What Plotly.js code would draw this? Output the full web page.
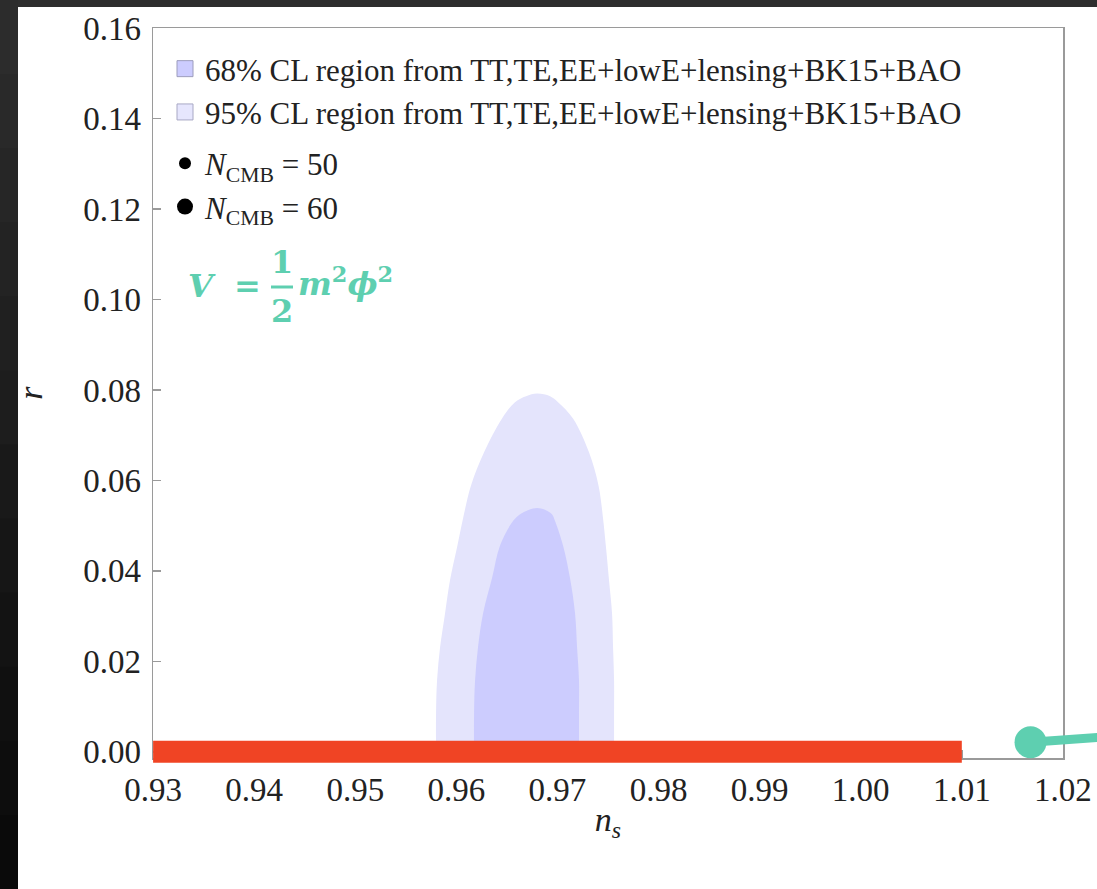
<!DOCTYPE html>
<html><head><meta charset="utf-8">
<script src="https://cdn.plot.ly/plotly-3.0.1.min.js"></script>
<style>html,body{margin:0;padding:0;background:#1e1e1e;} #chart{width:1097px;height:889px;}</style>
</head><body><div id="chart"></div>
<script>
// ---- data ----
// 95% CL contour (n_s, r), traced left side bottom->top then right side top->bottom
const ci95Ns = [0.95799,0.95799,0.95809,0.95839,0.95888,0.95937,0.96007,0.96066,0.96145,0.96274,0.96452,0.96580,0.96689,0.96798,0.96927,0.97006,0.97154,0.97312,0.97406,0.97451,0.97480,0.97510,0.97540,0.97550,0.97560,0.97560,0.97560];
const ci95R  = [0.0000,0.0085,0.0158,0.0231,0.0306,0.0379,0.0452,0.0516,0.0589,0.0662,0.0737,0.0773,0.0786,0.0792,0.0786,0.0773,0.0737,0.0662,0.0589,0.0516,0.0452,0.0379,0.0306,0.0231,0.0158,0.0085,0.0000];
// 68% CL contour
const ci68Ns = [0.96175,0.96175,0.96185,0.96214,0.96264,0.96353,0.96432,0.96560,0.96630,0.96719,0.96798,0.96877,0.96946,0.96976,0.97055,0.97124,0.97174,0.97194,0.97213,0.97213,0.97213];
const ci68R  = [0.0000,0.0085,0.0158,0.0231,0.0306,0.0384,0.0456,0.0510,0.0525,0.0535,0.0539,0.0535,0.0525,0.0510,0.0456,0.0384,0.0306,0.0231,0.0158,0.0085,0.0000];
const redBandNs = [0.93, 1.01];
const redBandR  = [0.0, 0.0];
const cyanNs = [1.0168, 1.0234, 1.0320];
const cyanR  = [0.0021, 0.0032, 0.0045];
const xTickVals = [0.93,0.94,0.95,0.96,0.97,0.98,0.99,1.00,1.01,1.02];
const xTickText = ['0.93','0.94','0.95','0.96','0.97','0.98','0.99','1.00','1.01','1.02'];
const yTickVals = [0.00,0.02,0.04,0.06,0.08,0.10,0.12,0.14,0.16];
const yTickText = ['0.00','0.02','0.04','0.06','0.08','0.10','0.12','0.14','0.16'];
const legendLabels = [
  '68% CL region from TT,TE,EE+lowE+lensing+BK15+BAO',
  '95% CL region from TT,TE,EE+lowE+lensing+BK15+BAO',
  '<i>N</i><sub>CMB</sub> = 50',
  '<i>N</i><sub>CMB</sub> = 60'
];

// ---- geometry (pixels of the 1097x889 page) ----
const W = 1097, H = 889;
const M = {l:153, r:0, t:28, b:100};
const PW = W - M.l - M.r, PH = H - M.t - M.b;
const boxRight = 1063, boxBottom = 758;
const xDom = [0, (boxRight - M.l) / PW];
const yDom = [(H - M.b - boxBottom) / PH, 1];
const xRange = [0.92999, 1.02001];
const yRange = [-0.00137, 0.16002];
// overlay axes spanning the whole plot area with the same scale (so marks may spill past the box)
const xs = (xRange[1]-xRange[0])/(xDom[1]-xDom[0]);
const ys = (yRange[1]-yRange[0])/(yDom[1]-yDom[0]);
const x2Range = [xRange[0], xRange[0] + xs];
const y2Range = [yRange[0] - yDom[0]*ys, yRange[1] + (1-yDom[1])*ys];
const px = v => (v - M.l) / PW;
const py = v => (H - M.b - v) / PH;

const SERIF = 'Liberation Serif';
const TEAL = '#5ecfb0';
const AX = '#9a9a9a';

const traces = [
  {x: ci95Ns, y: ci95R, type:'scatter', mode:'lines', fill:'toself', fillcolor:'#e4e4fc',
   line:{width:0, shape:'spline', smoothing:1, color:'#e4e4fc'}, showlegend:false, hoverinfo:'skip'},
  {x: ci68Ns, y: ci68R, type:'scatter', mode:'lines', fill:'toself', fillcolor:'#ccccfe',
   line:{width:0, shape:'spline', smoothing:1, color:'#ccccfe'}, showlegend:false, hoverinfo:'skip'},
  // legend entries
  {x:[null], y:[null], type:'scatter', mode:'markers', name: legendLabels[0], legendgroup:'cl',
   marker:{symbol:'square', size:16, color:'#ccccfe', line:{width:1, color:'#9c9cbc'}}},
  {x:[null], y:[null], type:'scatter', mode:'markers', name: legendLabels[1], legendgroup:'cl',
   marker:{symbol:'square', size:16, color:'#e6e6fd', line:{width:1, color:'#a8a8c4'}}},
  {x:[null], y:[null], type:'scatter', mode:'markers', name: legendLabels[2], legendgroup:'n',
   marker:{symbol:'circle', size:12, color:'#000'}},
  {x:[null], y:[null], type:'scatter', mode:'markers', name: legendLabels[3], legendgroup:'n',
   marker:{symbol:'circle', size:16, color:'#000'}},
  // red band and cyan curve on overlay axes
  {x: redBandNs, y: redBandR, xaxis:'x2', yaxis:'y2', type:'scatter', mode:'lines',
   line:{color:'#f04424', width:22}, showlegend:false, hoverinfo:'skip'},
  {x: cyanNs, y: cyanR, xaxis:'x2', yaxis:'y2', type:'scatter', mode:'lines',
   line:{color:TEAL, width:9}, showlegend:false, hoverinfo:'skip'},
  {x: [cyanNs[0]], y: [cyanR[0]], xaxis:'x2', yaxis:'y2', type:'scatter', mode:'markers',
   marker:{color:TEAL, size:32}, showlegend:false, hoverinfo:'skip'}
];

// background: dark frame top/left, white page
const shapes = [
  {type:'rect', xref:'paper', yref:'paper', layer:'below', x0:px(0), x1:px(W), y0:py(0), y1:py(7), fillcolor:'#2e2e2e', line:{width:0}},
];
const bands = 12;
for (let i=0;i<bands;i++){
  const c = Math.round(44 - (44-10)*i/(bands-1));
  const hex = '#' + [c,c,c].map(v=>v.toString(16).padStart(2,'0')).join('');
  shapes.push({type:'rect', xref:'paper', yref:'paper', layer:'below', x0:px(0), x1:px(18),
    y0:py(i*H/bands), y1:py((i+1)*H/bands+1), fillcolor:hex, line:{width:0}});
}
shapes.push({type:'rect', xref:'paper', yref:'paper', layer:'below', x0:px(18), x1:px(W), y0:py(H), y1:py(7), fillcolor:'#ffffff', line:{width:0}});
// fraction bar of the formula
shapes.push({type:'line', xref:'paper', yref:'paper', x0:px(271), x1:px(293), y0:py(287), y1:py(287), line:{color:TEAL, width:3}});

const FF = {family:'DejaVu Serif', size:32, color:TEAL};
const annotations = [
  {xref:'paper', yref:'paper', x:px(202), y:py(286), text:'<b><i>V</i></b>', showarrow:false, font:FF, xanchor:'center', yanchor:'middle'},
  {xref:'paper', yref:'paper', x:px(247), y:py(286), text:'<b>=</b>', showarrow:false, font:FF, xanchor:'center', yanchor:'middle'},
  {xref:'paper', yref:'paper', x:px(282), y:py(262), text:'<b>1</b>', showarrow:false, font:FF, xanchor:'center', yanchor:'middle'},
  {xref:'paper', yref:'paper', x:px(282), y:py(311), text:'<b>2</b>', showarrow:false, font:FF, xanchor:'center', yanchor:'middle'},
  {xref:'paper', yref:'paper', x:px(296), y:py(282), text:'<b><i>m</i></b><sup><b>2</b></sup><b><i>ϕ</i></b><sup><b>2</b></sup>', showarrow:false, font:FF, xanchor:'left', yanchor:'middle'}
];

const axisCommon = {showgrid:false, zeroline:false, showline:true, mirror:true, linecolor:AX, linewidth:1.5,
  ticks:'inside', ticklen:8, tickwidth:1.5, tickcolor:AX, tickmode:'array',
  tickfont:{family:SERIF, size:33, color:'#222'}};

const layout = {
  width:W, height:H, margin:M, paper_bgcolor:'#1e1e1e', plot_bgcolor:'rgba(0,0,0,0)',
  font:{family:SERIF, color:'#222'},
  xaxis: Object.assign({}, axisCommon, {domain:xDom, range:xRange, anchor:'y', tickvals:xTickVals, ticktext:xTickText,
    ticklabelstandoff:2,
    title:{text:'<i>n</i><sub><i>s</i></sub>', font:{family:SERIF, size:34, color:'#222'}, standoff:0}}),
  yaxis: Object.assign({}, axisCommon, {domain:yDom, range:yRange, anchor:'x', tickvals:yTickVals, ticktext:yTickText,
    ticklabelstandoff:4,
    title:{text:'<i>r</i>', font:{family:SERIF, size:34, color:'#222'}, standoff:30}}),
  xaxis2: {domain:[0,1], range:x2Range, anchor:'y2', visible:false, showgrid:false, zeroline:false},
  yaxis2: {domain:[0,1], range:y2Range, anchor:'x2', visible:false, showgrid:false, zeroline:false},
  showlegend:true,
  legend:{x:px(165), y:py(42), xanchor:'left', yanchor:'top', bgcolor:'rgba(0,0,0,0)', borderwidth:0,
    font:{family:SERIF, size:31, color:'#222'}, tracegroupgap:8, traceorder:'grouped'},
  shapes:shapes, annotations:annotations
};

Plotly.newPlot('chart', traces, layout, {displayModeBar:false, staticPlot:true});
</script></body></html>
